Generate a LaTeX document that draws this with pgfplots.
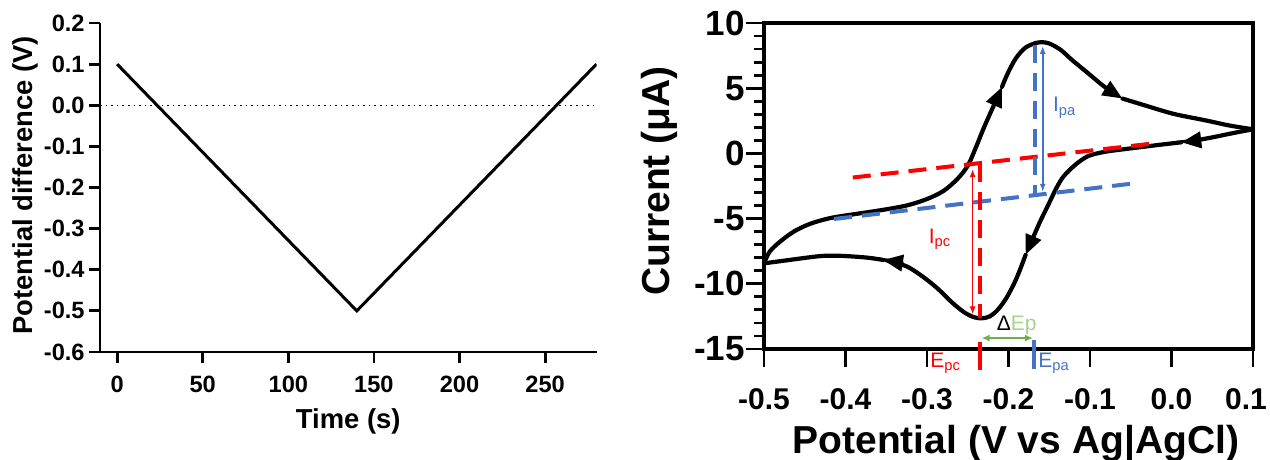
\documentclass[border=0pt]{standalone}
\usepackage{fontspec}
\setmainfont{Liberation Sans}
\usepackage{pgfplots}
\pgfplotsset{compat=1.18}
\usetikzlibrary{arrows.meta}
\definecolor{cvred}{RGB}{255,0,0}
\definecolor{cvblue}{RGB}{68,114,196}
\definecolor{cvgreen}{RGB}{112,173,71}
\definecolor{cvlgreen}{RGB}{169,209,142}
\newcommand\ftickL{\fontsize{11.8}{13}\selectfont\bfseries}
\newcommand\flabL{\fontsize{13.7}{16}\selectfont\bfseries}
\newcommand\ftickRx{\fontsize{15}{18}\selectfont\bfseries}
\newcommand\ftickRy{\fontsize{17.5}{20}\selectfont\bfseries}
\newcommand\flabR{\fontsize{19.5}{23}\selectfont\bfseries}
\newcommand\fann{\fontsize{10.5}{12}\selectfont}
\tikzset{
  cv/.style={black,line width=2.1pt,smooth,line cap=round,
             -{Triangle[length=10pt,width=8pt]}},
  cvend/.style={black,line width=2.1pt,smooth,line cap=round},
  base/.style={line width=2pt,dash pattern=on 9pt off 5pt},
  dbl/.style={line width=0.8pt,{Latex[length=4pt,width=3pt]}-{Latex[length=4pt,width=3pt]}},
}
\begin{document}
\begin{tikzpicture}
% left: potential waveform
\begin{axis}[
  at={(50pt,54pt)}, anchor=south west,
  scale only axis, width=248.25pt, height=164.5pt,
  xmin=-10, xmax=280, ymin=-0.6, ymax=0.2,
  axis x line*=bottom, axis y line*=left,
  axis line style={-,line width=1.4pt},
  xtick={0,50,100,150,200,250},
  ytick={-0.6,-0.5,-0.4,-0.3,-0.2,-0.1,0,0.1,0.2},
  yticklabels={-0.6,-0.5,-0.4,-0.3,-0.2,-0.1,0.0,0.1,0.2},
  tick align=outside, major tick length=5.5pt,
  tick style={line width=1.4pt,black},
  ticklabel style={font=\ftickL,inner sep=0pt},
  /pgf/number format/assume math mode=true,
  xticklabel shift=6.5pt, yticklabel shift=2pt,
  xlabel={Time (s)},
  xlabel style={at={(axis description cs:0.5,-0.21)},anchor=center,font=\flabL},
  ylabel={Potential difference (V)},
  ylabel style={at={(axis description cs:-0.151,0.506)},anchor=center,font=\flabL},
]
\addplot[black,line width=0.7pt,dash pattern=on 0.8pt off 2pt] coordinates {(-10,0)(280,0)};
\addplot[black,line width=1.5pt] coordinates {(0,0.1)(140,-0.5)(280,0.1)};
\end{axis}
% right: cyclic voltammogram
\begin{axis}[
  at={(382pt,55.5pt)}, anchor=south west,
  scale only axis, width=244.5pt, height=163pt,
  xmin=-0.5, xmax=0.1, ymin=-15, ymax=10,
  clip=false,
  axis line style={line width=1.6pt},
  xtick={-0.5,-0.4,-0.3,-0.2,-0.1,0,0.1},
  xticklabels={-0.5,-0.4,-0.3,-0.2,-0.1,0.0,{\hspace*{-7pt}0.1}},
  ytick={-15,-10,-5,0,5,10},
  yticklabels={-15,-10,-5,0,5,10},
  minor y tick num=4,
  tick pos=left, tick align=outside,
  major tick length=9pt, minor tick length=5pt,
  tick style={line width=1.4pt,black},
  xticklabel style={font=\ftickRx,inner sep=0pt},
  yticklabel style={font=\ftickRy,inner sep=0pt},
  /pgf/number format/assume math mode=true,
  xticklabel shift=10.5pt, yticklabel shift=0.5pt,
  xlabel={Potential (V vs Ag|AgCl)},
  xlabel style={at={(axis description cs:0.515,-0.29)},anchor=center,font=\flabR},
  ylabel={Current (μA)},
  ylabel style={at={(axis description cs:-0.213,0.515)},anchor=center,font=\flabR},
]
% curve, scanned from 0.1 V towards negative potentials and back
\addplot[cv] coordinates {(0.1,1.85)(0.075,1.55)(0.051,1.24)(0.03,1.0)(0.012,0.85)};
\addplot[cv] coordinates {(0.012,0.85)(-0.013,0.67)(-0.035,0.5)(-0.057,0.33)(-0.082,0.12)
  (-0.102,-0.2)(-0.117,-0.82)(-0.132,-1.73)(-0.141,-2.63)(-0.151,-3.92)(-0.161,-5.2)
  (-0.171,-6.62)(-0.179,-7.78)};
\addplot[cv] coordinates {(-0.179,-7.78)(-0.186,-8.94)(-0.193,-9.97)(-0.203,-11.13)
  (-0.213,-11.98)(-0.223,-12.5)(-0.233,-12.65)(-0.243,-12.55)(-0.255,-12.16)(-0.27,-11.39)
  (-0.287,-10.36)(-0.305,-9.46)(-0.324,-8.69)(-0.344,-8.3)(-0.354,-8.17)};
\addplot[cvend] coordinates {(-0.354,-8.17)(-0.374,-7.99)(-0.404,-7.86)(-0.428,-7.86)
  (-0.453,-8.04)(-0.478,-8.25)(-0.5,-8.43)};
\addplot[cv] coordinates {(-0.5,-8.43)(-0.493,-7.53)(-0.48,-6.75)(-0.463,-5.98)(-0.443,-5.39)
  (-0.418,-4.95)(-0.389,-4.66)(-0.354,-4.33)(-0.324,-3.98)(-0.3,-3.5)(-0.28,-2.89)
  (-0.263,-1.98)(-0.25,-0.95)(-0.24,0.46)(-0.23,2.0)(-0.218,3.69)(-0.208,5.1)};
\addplot[cv] coordinates {(-0.208,5.1)(-0.201,6.13)(-0.191,7.29)(-0.179,8.12)(-0.164,8.5)
  (-0.151,8.45)(-0.136,7.94)(-0.122,7.16)(-0.102,6.13)(-0.082,5.1)(-0.06,4.2)};
\addplot[cvend] coordinates {(-0.06,4.2)(-0.033,3.69)(0.002,3.04)(0.042,2.53)(0.071,2.14)(0.1,1.85)};
% baselines and peak markers
\addplot[cvred,base] coordinates {(-0.391,-1.85)(-0.024,0.75)};
\addplot[cvblue,base] coordinates {(-0.414,-5.03)(-0.042,-2.27)};
\addplot[cvblue,base] coordinates {(-0.167,8.3)(-0.167,-3.2)};
\addplot[cvred,base] coordinates {(-0.235,-0.8)(-0.235,-12.6)};
\addplot[cvblue,dbl] coordinates {(-0.158,8.25)(-0.158,-2.95)};
\addplot[cvred,dbl] coordinates {(-0.244,-1.2)(-0.244,-12.35)};
\addplot[cvgreen,line width=1pt,{Latex[length=4pt,width=3.5pt]}-{Latex[length=4pt,width=3.5pt]}]
  coordinates {(-0.233,-14.16)(-0.170,-14.16)};
\addplot[cvred,line width=2pt] coordinates {(-0.235,-14.45)(-0.235,-16.6)};
\addplot[cvblue,line width=2pt] coordinates {(-0.169,-14.3)(-0.169,-16.5)};
\node[cvred,font=\fann] at (axis cs:-0.284,-6.6) {I\textsubscript{pc}};
\node[cvblue,font=\fann] at (axis cs:-0.131,3.5) {I\textsubscript{pa}};
\node[cvred,font=\fann] at (axis cs:-0.277,-16.07) {E\textsubscript{pc}};
\node[cvblue,font=\fann] at (axis cs:-0.144,-16.1) {E\textsubscript{pa}};
\node[font=\fann] at (axis cs:-0.19,-13.16) {Δ\textcolor{cvlgreen}{Ep}};
\end{axis}
\pgfresetboundingbox
\path[use as bounding box] (0,0) rectangle (635pt,230pt);
\end{tikzpicture}
\end{document}
